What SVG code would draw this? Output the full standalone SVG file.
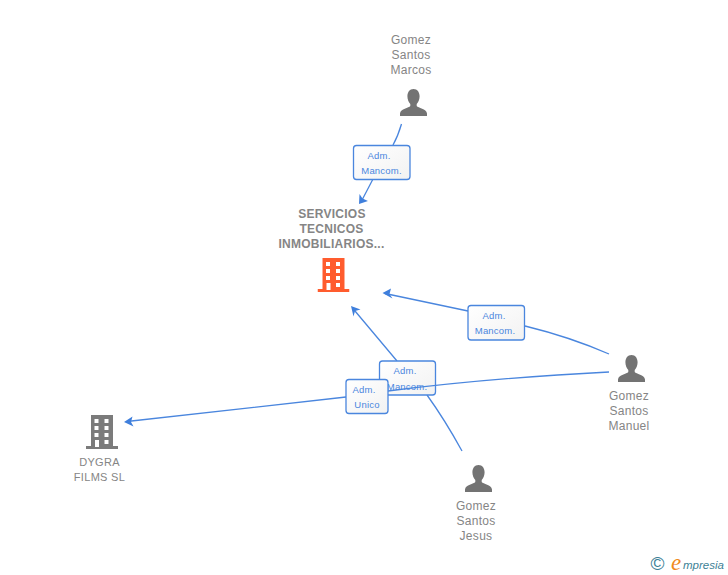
<svg xmlns="http://www.w3.org/2000/svg" width="728" height="575" viewBox="0 0 728 575">
<style>
text{font-family:"Liberation Sans",Arial,sans-serif}
.n{font-size:12px;fill:#858585;text-anchor:middle;letter-spacing:.3px}
.d{font-size:11px;fill:#858585;text-anchor:middle;letter-spacing:.3px}
.t{font-size:12px;font-weight:bold;fill:#858585;text-anchor:middle;letter-spacing:.25px}
.l{font-size:9.500px;fill:#4a86de;text-anchor:middle;letter-spacing:.2px}
.c{fill:none;stroke:#4a86de;stroke-width:1.300}
.b{fill:url(#g);stroke:#4a86de;stroke-width:1.300}
.a{fill:#3f7fdc}
</style>
<defs>
<linearGradient id="g" x1="0" y1="0" x2="1" y2="1"><stop offset="0" stop-color="#fff"/><stop offset="1" stop-color="#f2f2f2"/></linearGradient>
<symbol id="p" viewBox="0 0 27 27" width="27" height="27"><path fill="#737373" d="M13.500 0C17.400 0 19.600 3.200 19.600 7.200C19.600 10.500 18.300 13.200 16.700 15V17C18 19 26.500 19.500 27 24.500V27H0V24.500C.5 19.500 9 19 10.300 17V15C8.700 13.200 7.400 10.500 7.400 7.200C7.400 3.200 9.600 0 13.500 0Z"/></symbol>
<symbol id="h" viewBox="0 0 32 34" width="32" height="34"><path fill-rule="evenodd" d="M5 0H27V31H32V34H0V31H5ZM8.500 4V8H12.500V4ZM18.500 4V8H22.500V4ZM8.500 11V15H12.500V11ZM18.500 11V15H22.500V11ZM8.500 18V22H12.500V18ZM18.500 18V22H22.500V18ZM9 25V32H13V25ZM18.500 25V29H22.500V25Z"/></symbol>
</defs>
<g id="connectors-back">
<path class="c" d="M401.500 124Q398 136 393 145M373 179L361 202"/>
<path class="a" d="M359 204L359.500 194L362.500 198.500L368 201Z"/>
<path class="c" d="M609 354Q570 337 525 326M468 311L385 293.500"/>
<path class="a" d="M382.500 293L391 288.500L389.500 294L392.500 298.500Z"/>
<path class="c" d="M462 451Q445 420 427 395M397 361L352.500 308"/>
<path class="a" d="M351 306L360.500 309.500L355 311L353.500 316.500Z"/>
</g>
<g id="edge-label-marcos"><rect class="b" x="353.500" y="145.500" width="56.500" height="34" rx="3"/><text class="l" x="379" y="159">Adm.</text><text class="l" x="381.500" y="174">Mancom.</text></g>
<g id="edge-label-manuel"><rect class="b" x="468" y="305.500" width="56.500" height="34.500" rx="3"/><text class="l" x="494" y="319">Adm.</text><text class="l" x="495" y="334">Mancom.</text></g>
<g id="edge-label-jesus"><rect class="b" x="379.500" y="361" width="56" height="34" rx="3"/><text class="l" x="405" y="374">Adm.</text><text class="l" x="407" y="389.500">Mancom.</text></g>
<g id="connectors-front">
<path class="c" d="M609 372Q490 378 388 391M346 397L127 421.500"/>
<path class="a" d="M124 422L132.500 416.500L131 422L133.500 426.500Z"/>
</g>
<g id="edge-label-unico"><rect class="b" x="346" y="379.500" width="42" height="34" rx="3"/><text class="l" x="364" y="393">Adm.</text><text class="l" x="367" y="408">Unico</text></g>
<g id="node-servicios" fill="#ff5c2e"><text class="t" x="332" y="217.500">SERVICIOS</text><text class="t" x="331.500" y="232.500">TECNICOS</text><text class="t" x="331.500" y="247.500">INMOBILIARIOS...</text><use href="#h" x="317.500" y="258"/></g>
<g id="node-dygra" fill="#7b7b7b"><use href="#h" x="86" y="415"/><text class="d" x="99.500" y="466">DYGRA</text><text class="d" x="99.500" y="481">FILMS SL</text></g>
<g id="node-marcos"><text class="n" x="411" y="44">Gomez</text><text class="n" x="411" y="59">Santos</text><text class="n" x="411" y="74">Marcos</text><use href="#p" x="400" y="89"/></g>
<g id="node-manuel"><use href="#p" x="618" y="355"/><text class="n" x="629" y="400">Gomez</text><text class="n" x="629" y="415">Santos</text><text class="n" x="629" y="430">Manuel</text></g>
<g id="node-jesus"><use href="#p" x="465" y="465"/><text class="n" x="476" y="510">Gomez</text><text class="n" x="476" y="525">Santos</text><text class="n" x="476" y="540">Jesus</text></g>
<g id="logo"><text x="657.500" y="570" font-size="19" fill="#3d7f96" text-anchor="middle">©</text><text x="671" y="569.500" font-size="23" font-style="italic" fill="#f08a1d" style="font-family:'Liberation Serif',serif">e</text><text x="683" y="569" font-size="11.500" font-style="italic" fill="#3d7f96">mpresia</text></g>
</svg>
